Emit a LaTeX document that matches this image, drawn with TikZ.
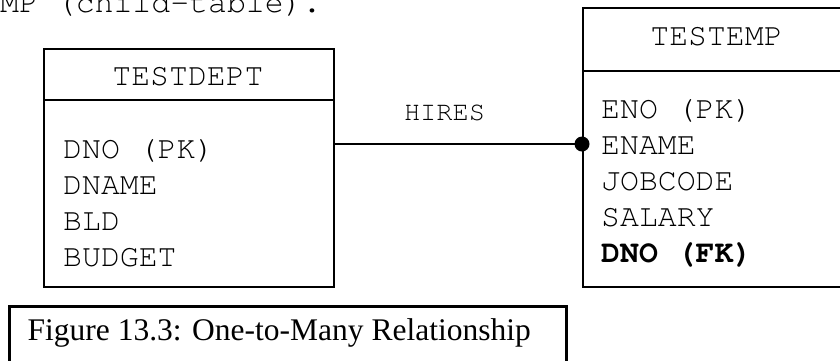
\documentclass[tikz,border=0pt]{standalone}
\usepackage{fontspec}
\setmainfont{Liberation Serif}
\setmonofont{TeX Gyre Cursor}
\begin{document}
\begin{tikzpicture}[x=1pt,y=-1pt,
  tbl/.style={draw, line width=2.2pt, inner sep=0pt, anchor=north west},
  mono/.style={font=\ttfamily\fontsize{31.5}{36}\selectfont, inner sep=0pt, anchor=base west},
  title/.style={mono, anchor=base},
  conn/.style={line width=2.2pt},
  capbox/.style={draw, line width=2.5pt, inner sep=0pt, anchor=north west}
]
\clip (0,0) rectangle (840,360);
% top text (partially cut)
\node[mono] (toptext) at (0,12) {MP (child-table).};
% TESTDEPT table
\node[tbl, minimum width=290pt, minimum height=51pt] (dh) at (43,48) {};
\node[tbl, minimum width=290pt, minimum height=187pt] (db) at (43,99) {};
\node[title] (dtitle) at (188,85) {TESTDEPT};
\node[mono] (d1) at (63,158) {DNO (PK)};
\node[mono] (d2) at (63,194) {DNAME};
\node[mono] (d3) at (63,230) {BLD};
\node[mono] (d4) at (63,266) {BUDGET};
% TESTEMP table
\node[tbl, minimum width=269pt, minimum height=63pt] (eh) at (582,7) {};
\node[tbl, minimum width=269pt, minimum height=216pt] (eb) at (582,70) {};
\node[title] (etitle) at (716.5,45) {TESTEMP};
\node[mono] (e1) at (601,118) {ENO (PK)};
\node[mono] (e2) at (601,154) {ENAME};
\node[mono] (e3) at (601,190) {JOBCODE};
\node[mono] (e4) at (601,226) {SALARY};
\node[mono] (e5) at (601,262) {\bfseries DNO (FK)};
% relationship
\coordinate (hs) at (333,144);
\node[circle, fill, inner sep=0pt, minimum size=15pt] (dot) at (hs -| eb.west) {};
\draw[conn] (hs) -- (dot.center);
\node[font=\ttfamily\fontsize{27}{30}\selectfont, inner sep=0pt, anchor=base] (hires) at (444.5,120) {HIRES};
% caption
\node[capbox, minimum width=557pt, minimum height=80pt] (cap) at (8,305) {};
\node[font=\fontsize{31.5}{36}\selectfont, inner sep=0pt, anchor=base west] (captext) at (27.5,340) {Figure 13.3: One-to-Many Relationship};
\end{tikzpicture}
\end{document}
